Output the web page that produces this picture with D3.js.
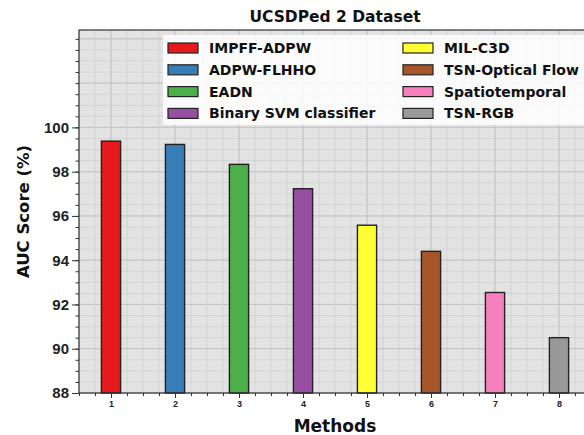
<!DOCTYPE html>
<html><head><meta charset="utf-8">
<script src="https://cdn.jsdelivr.net/npm/d3@7"></script>
<style>body{margin:0;background:#fff;overflow:hidden}svg{display:block;font-family:"DejaVu Sans",sans-serif}</style>
</head><body><svg id="c" width="584" height="435"></svg>
<script>
const categories = [1,2,3,4,5,6,7,8];
const methods = ["IMPFF-ADPW","ADPW-FLHHO","EADN","Binary SVM classifier","MIL-C3D","TSN-Optical Flow","Spatiotemporal","TSN-RGB"];
const aucScores = [99.38, 99.23, 98.33, 97.23, 95.58, 94.4, 92.54, 90.5];
const colors = ["#e41a1c","#377eb8","#4daf4a","#984ea3","#ffff33","#a65628","#f781bf","#999999"];
const yTicks = [88,90,92,94,96,98,100];

const svg = d3.select("#c");
const L=79,R=591,T=30,B=393;
const x = d3.scaleLinear().domain([0.5,8.5]).range([L,R]);
const y = d3.scaleLinear().domain([88,104.4]).range([B,T]);

svg.append("rect").attr("x",L).attr("y",T).attr("width",R-L).attr("height",B-T).attr("fill","#e3e3e3");
const g = svg.append("g");
// minor grid
d3.range(0.5,8.5001,0.25).forEach(v=>g.append("line").attr("x1",x(v)).attr("x2",x(v)).attr("y1",T).attr("y2",B).attr("stroke","#cfcfcf").attr("stroke-width",0.7));
d3.range(88,104.4,0.5).forEach(v=>g.append("line").attr("y1",y(v)).attr("y2",y(v)).attr("x1",L).attr("x2",R).attr("stroke","#cfcfcf").attr("stroke-width",0.7));
// major grid
categories.forEach(v=>g.append("line").attr("x1",x(v)).attr("x2",x(v)).attr("y1",T).attr("y2",B).attr("stroke","#c4c4c4").attr("stroke-width",1));
d3.range(88,104.4,2).forEach(v=>g.append("line").attr("y1",y(v)).attr("y2",y(v)).attr("x1",L).attr("x2",R).attr("stroke","#c4c4c4").attr("stroke-width",1));

// bars
const bw = x(1.15)-x(0.85);
svg.selectAll("rect.bar").data(aucScores).enter().append("rect").attr("class","bar")
  .attr("x",(d,i)=>x(categories[i])-bw/2).attr("width",bw)
  .attr("y",d=>y(d)).attr("height",d=>y(88)-y(d))
  .attr("fill",(d,i)=>colors[i]).attr("stroke","#222").attr("stroke-width",1.4);

// frame
svg.append("rect").attr("x",L).attr("y",T).attr("width",R-L).attr("height",B-T).attr("fill","none").attr("stroke","#333").attr("stroke-width",1.2);

// axes
const ya = d3.axisLeft(y).tickValues(yTicks).tickSize(7).tickPadding(3).tickFormat(d3.format("d"));
const yg = svg.append("g").attr("transform",`translate(${L},0)`).call(ya);
yg.select(".domain").remove();
yg.selectAll("text").attr("font-size",15).attr("font-weight","bold").attr("fill","#222");
const yminor = d3.axisLeft(y).tickValues(d3.range(88,104.4,0.5)).tickSize(3.5).tickFormat("");
const ym = svg.append("g").attr("transform",`translate(${L},0)`).call(yminor); ym.select(".domain").remove();

const xa = d3.axisBottom(x).tickValues(categories).tickSize(5).tickPadding(3).tickFormat(d3.format("d"));
const xg = svg.append("g").attr("transform",`translate(0,${B})`).call(xa);
xg.select(".domain").remove();
xg.selectAll("text").attr("font-size",9).attr("font-weight","bold").attr("fill","#222");
const xminor = d3.axisBottom(x).tickValues(d3.range(0.5,8.5001,0.25)).tickSize(3).tickFormat("");
const xm = svg.append("g").attr("transform",`translate(0,${B})`).call(xminor); xm.select(".domain").remove();
svg.selectAll(".tick line").attr("stroke","#333");

// labels
svg.append("text").attr("x",335).attr("y",22).attr("text-anchor","middle").attr("font-size",15.5).attr("font-weight","bold").attr("fill","#111").text("UCSDPed 2 Dataset");
svg.append("text").attr("x",335).attr("y",432).attr("text-anchor","middle").attr("font-size",17).attr("font-weight","bold").attr("fill","#111").text("Methods");
svg.append("text").attr("transform",`translate(29,${(T+B)/2}) rotate(-90)`).attr("text-anchor","middle").attr("font-size",16.5).attr("font-weight","bold").attr("fill","#111").text("AUC Score (%)");

// legend
const lg = svg.append("g");
lg.append("rect").attr("x",163).attr("y",35).attr("width",430).attr("height",90).attr("fill","#fff").attr("fill-opacity",0.85).attr("rx",3);
methods.forEach((m,i)=>{
  const col = Math.floor(i/4), row = i%4;
  const hx = col===0?168:403, ty = 48+row*21.8;
  lg.append("rect").attr("x",hx).attr("y",ty-5).attr("width",30).attr("height",10).attr("fill",colors[i]).attr("stroke","#222").attr("stroke-width",1.2);
  lg.append("text").attr("x",hx+41).attr("y",ty+5).attr("font-size",14).attr("font-weight","bold").attr("fill","#111").text(m);
});
</script></body></html>
